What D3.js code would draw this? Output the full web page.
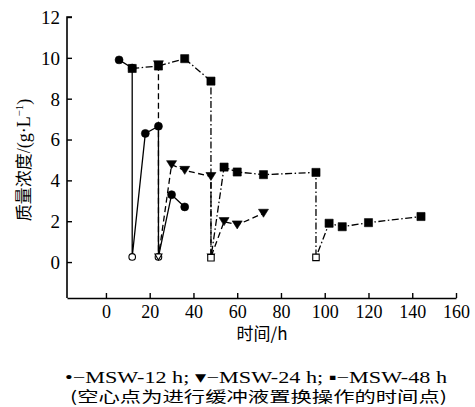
<!DOCTYPE html>
<html>
<head>
<meta charset="utf-8">
<script src="https://cdn.jsdelivr.net/npm/d3@7"></script>
<style>
  body { margin: 0; background: #fff; }
  text { fill: #000; }
</style>
</head>
<body>
<div id="chart"></div>
<script>
const width = 475;
const height = 407;

// MSW-12 h (circles, solid line)
const time12 = [6, 12, 12, 18, 24, 24, 30, 36];
const value12 = [9.9, 9.5, 0.25, 6.3, 6.65, 0.25, 3.3, 2.7];
const hollow12 = [false, false, true, false, false, true, false, false];

// MSW-24 h (triangles, dashed line)
const time24 = [24, 24, 30, 36, 48, 48, 54, 60, 72];
const value24 = [9.66, 0.25, 4.77, 4.49, 4.19, 0.25, 1.98, 1.82, 2.39];
const hollow24 = [false, true, false, false, false, true, false, false, false];

// MSW-48 h (squares, dash-dot line)
const time48 = [12, 24, 36, 48, 48, 54, 60, 72, 96, 96, 102, 108, 120, 144];
const value48 = [9.48, 9.6, 9.96, 8.86, 0.21, 4.65, 4.41, 4.28, 4.39, 0.23, 1.9, 1.73, 1.93, 2.23];
const hollow48 = [false, false, false, false, true, false, false, false, false, true, false, false, false, false];

const xTicks = [0, 20, 40, 60, 80, 100, 120, 140, 160];
const yTicks = [0, 2, 4, 6, 8, 10, 12];

const xLabel = "时间/h";
const yLabelCn = "质量浓度";
const yLabelUnit = "/(g·L";
const legendLine = "•−MSW-12 h;  ▾−MSW-24 h;  ▪−MSW-48 h";
const noteLine = "(空心点为进行缓冲液置换操作的时间点)";

const toPoints = (ts, vs, hs) => ts.map((t, i) => ({ t, v: vs[i], hollow: hs[i] }));

const series = [
  { name: "MSW-12 h", shape: "circle", dash: null, points: toPoints(time12, value12, hollow12) },
  { name: "MSW-24 h", shape: "triangle", dash: "6,3.5", points: toPoints(time24, value24, hollow24) },
  { name: "MSW-48 h", shape: "square", dash: "7,2.5,1.5,2.5", points: toPoints(time48, value48, hollow48) },
];

const svg = d3
  .select("#chart")
  .append("svg")
  .attr("width", width)
  .attr("height", height);

const xScale = d3.scaleLinear().domain([-17.8, 160]).range([67, 456]);
const yScale = d3.scaleLinear().domain([-1.76, 12]).range([298, 17]);

// axes, ticks pointing inward
const xAxis = d3.axisBottom(xScale).tickValues(xTicks).tickSizeInner(-5).tickSizeOuter(0).tickPadding(7);
const yAxis = d3.axisLeft(yScale).tickValues(yTicks).tickSizeInner(-5).tickSizeOuter(0).tickPadding(7);

const gx = svg.append("g").attr("transform", "translate(0,298)").call(xAxis);
const gy = svg.append("g").attr("transform", "translate(67,0)").call(yAxis);

[gx, gy].forEach((g) => {
  g.select(".domain").attr("stroke", "#000").attr("stroke-width", 1.6);
  g.selectAll(".tick line").attr("stroke", "#000").attr("stroke-width", 1.4);
});
// extend y domain line to the top tick corner
gy.select(".domain").attr("d", "M0,298V17H5");

gx.selectAll(".tick text")
  .attr("font-family", "Liberation Serif, serif")
  .attr("font-size", 18)
  .attr("fill", "#000");
gy.selectAll(".tick text")
  .attr("font-family", "Liberation Serif, serif")
  .attr("font-size", 19)
  .attr("fill", "#000")
  .attr("dy", "0.34em");

// lines
const line = d3
  .line()
  .x((d) => xScale(d.t))
  .y((d) => yScale(d.v));

series.forEach((s) => {
  svg
    .append("path")
    .datum(s.points)
    .attr("fill", "none")
    .attr("stroke", "#000")
    .attr("stroke-width", 1.3)
    .attr("stroke-dasharray", s.dash)
    .attr("d", line);
});

// markers
function shapePath(shape, hollow) {
  if (shape === "circle") return d3.symbol(d3.symbolCircle, hollow ? 34 : 50)();
  if (shape === "square") return d3.symbol(d3.symbolSquare, hollow ? 42 : 66)();
  const w = hollow ? 7 : 10;
  const h = hollow ? 6 : 8;
  return `M${-w / 2},${-h / 2}L${w / 2},${-h / 2}L0,${h / 2}Z`;
}

series.forEach((s) => {
  svg
    .append("g")
    .selectAll("path")
    .data(s.points)
    .enter()
    .append("path")
    .attr("transform", (d) => `translate(${xScale(d.t)},${yScale(d.v)})`)
    .attr("d", (d) => shapePath(s.shape, d.hollow))
    .attr("fill", (d) => (d.hollow ? "#fff" : "#000"))
    .attr("stroke", "#000")
    .attr("stroke-width", (d) => (d.hollow ? 1.1 : 0.6));
});

// axis titles
svg
  .append("text")
  .attr("x", 262)
  .attr("y", 340)
  .attr("text-anchor", "middle")
  .attr("font-family", "Noto Sans CJK SC, sans-serif")
  .attr("font-size", 17)
  .text(xLabel);

const yTitle = svg
  .append("text")
  .attr("transform", "translate(30,160) rotate(-90)")
  .attr("text-anchor", "middle")
  .attr("font-size", 17);
yTitle.append("tspan").attr("font-family", "Noto Sans CJK SC, sans-serif").text(yLabelCn);
yTitle.append("tspan").attr("font-family", "Liberation Serif, serif").attr("font-size", 18).text(yLabelUnit);
yTitle.append("tspan").attr("font-family", "Liberation Serif, serif").attr("font-size", 11).attr("dy", -7).text("−1");
yTitle.append("tspan").attr("font-family", "Liberation Serif, serif").attr("font-size", 18).attr("dy", 7).text(")");

// legend / note
svg
  .append("text")
  .attr("x", 65)
  .attr("y", 383)
  .attr("font-family", "Liberation Serif, serif")
  .attr("font-size", 17)
  .attr("textLength", 382)
  .attr("lengthAdjust", "spacingAndGlyphs")
  .text(legendLine);

svg
  .append("text")
  .attr("x", 70)
  .attr("y", 402)
  .attr("font-family", "Noto Sans CJK SC, sans-serif")
  .attr("font-size", 15)
  .attr("textLength", 377)
  .attr("lengthAdjust", "spacingAndGlyphs")
  .text(noteLine);
</script>
</body>
</html>
